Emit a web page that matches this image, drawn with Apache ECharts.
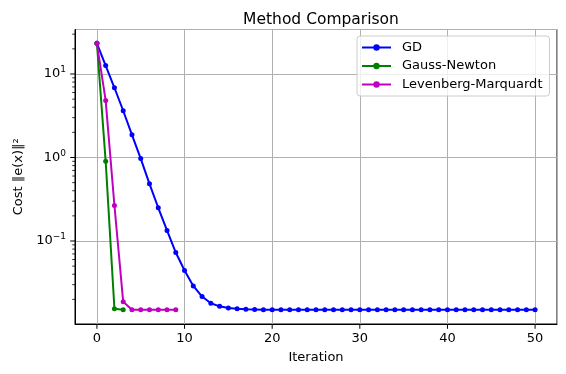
<!DOCTYPE html>
<html>
<head>
<meta charset="utf-8">
<script src="https://cdn.jsdelivr.net/npm/echarts@6/dist/echarts.min.js"></script>
<style>
html,body{margin:0;padding:0;background:#fff;}
#chart{width:566px;height:374px;}
</style>
</head>
<body>
<div id="chart"></div>
<script>
// ---- data ----
const titleText = 'Method Comparison';
const xLabel = 'Iteration';
const yLabel = 'Cost \u2016e(x)\u2016\u00b2';
const seriesNames = ['GD', 'Gauss-Newton', 'Levenberg-Marquardt'];
const gdCost = [23.3, 12.6, 6.84, 3.63, 1.87, 0.97, 0.484, 0.25, 0.134, 0.0728,
  0.0443, 0.029, 0.0216, 0.018, 0.0165, 0.0158, 0.0154, 0.0152, 0.0151,
  0.0150, 0.0150, 0.0150, 0.0150, 0.0150, 0.0150, 0.0150, 0.0150, 0.0150, 0.0150, 0.0150,
  0.0150, 0.0150, 0.0150, 0.0150, 0.0150, 0.0150, 0.0150, 0.0150, 0.0150, 0.0150,
  0.0150, 0.0150, 0.0150, 0.0150, 0.0150, 0.0150, 0.0150, 0.0150, 0.0150, 0.0150, 0.0150];
const gnCost = [23.3, 0.90, 0.0154, 0.0150];
const lmCost = [23.3, 4.8, 0.266, 0.0187, 0.0150, 0.0150, 0.0150, 0.0150, 0.0150, 0.0150];
const xTicks = [0, 10, 20, 30, 40, 50];
const yMajorTicks = [0.1, 1, 10];
const yMinorTicks = [0.02, 0.03, 0.04, 0.05, 0.06, 0.07, 0.08, 0.09,
  0.2, 0.3, 0.4, 0.5, 0.6, 0.7, 0.8, 0.9,
  2, 3, 4, 5, 6, 7, 8, 9, 20, 30];
const xMin = -2.5, xMax = 52.5;
const yMin = 0.01014, yMax = 34.1;

const colors = ['#0000ff', '#008000', '#bf00bf'];
const FONT = 'DejaVu Sans';

function toPairs(arr) { return arr.map((v, i) => [i, v]); }

function fmtPow(v) {
  const e = Math.round(Math.log10(v));
  return '{b|10}{s|' + String(e).replace('-', '\u2212') + '}';
}

const chart = echarts.init(document.getElementById('chart'), null, {renderer: 'canvas'});

function lineSeries(name, data, color) {
  return {
    name: name, type: 'line', data: toPairs(data),
    symbol: 'circle', symbolSize: 5, showSymbol: true,
    lineStyle: {color: color, width: 2},
    itemStyle: {color: color},
    emphasis: {disabled: true},
    animation: false, z: 3
  };
}

const GRID = {left: 75, right: 9, top: 29.5, bottom: 50};

const option = {
  animation: false,
  textStyle: {fontFamily: FONT},
  title: {
    text: titleText, left: 316, top: 7, textAlign: 'center',
    textStyle: {fontFamily: FONT, fontSize: 15.5, fontWeight: 'normal', color: '#000'}
  },
  grid: {
    left: GRID.left, right: GRID.right, top: GRID.top, bottom: GRID.bottom,
    show: true, borderColor: '#000', borderWidth: 1, backgroundColor: 'transparent'
  },
  legend: {
    data: seriesNames,
    orient: 'vertical', left: 357, top: 36,
    itemWidth: 29, itemHeight: 8, itemGap: 5.5,
    padding: [5, 7, 5, 4],
    backgroundColor: 'rgba(255,255,255,0.8)',
    borderColor: '#cccccc', borderWidth: 1, borderRadius: 3,
    textStyle: {fontFamily: FONT, fontSize: 13, color: '#000', padding: [0, 0, 0, 6]}
  },
  xAxis: {
    type: 'value', min: xMin, max: xMax,
    name: xLabel, nameLocation: 'middle', nameGap: 27,
    nameTextStyle: {fontFamily: FONT, fontSize: 13, color: '#000'},
    axisLine: {show: true, onZero: false, lineStyle: {color: '#000', width: 1}},
    axisTick: {show: false},
    axisLabel: {
      show: true, color: '#000', fontSize: 13, fontFamily: FONT, margin: 8,
      showMinLabel: false, showMaxLabel: false,
      formatter: v => (xTicks.indexOf(v) >= 0 ? String(v) : '')
    },
    splitLine: {show: true, lineStyle: {color: '#b0b0b0', width: 1}}
  },
  yAxis: {
    type: 'log', logBase: 10, min: yMin, max: yMax,
    name: yLabel, nameLocation: 'middle', nameGap: 50,
    nameTextStyle: {fontFamily: FONT, fontSize: 13, color: '#000'},
    axisLine: {show: true, onZero: false, lineStyle: {color: '#000', width: 1}},
    axisTick: {show: false},
    axisLabel: {
      show: true, color: '#000', margin: 9,
      showMinLabel: false, showMaxLabel: false,
      formatter: v => {
        const e = Math.log10(v);
        if (Math.abs(e - Math.round(e)) > 1e-6) return '';
        return fmtPow(v);
      },
      rich: {
        b: {fontFamily: FONT, fontSize: 13, color: '#000'},
        s: {fontFamily: FONT, fontSize: 9, color: '#000', verticalAlign: 'top', padding: [0, 0, 8, 0]}
      }
    },
    splitLine: {show: true, lineStyle: {color: '#b0b0b0', width: 1}}
  },
  series: [
    lineSeries(seriesNames[0], gdCost, colors[0]),
    lineSeries(seriesNames[1], gnCost, colors[1]),
    lineSeries(seriesNames[2], lmCost, colors[2])
  ]
};
chart.setOption(option);

// tick marks placed through the chart's own scales
const H = chart.getHeight();
const plotLeft = GRID.left, plotBottom = H - GRID.bottom;
const tickEls = [];
function yTick(v, len, lw) {
  const p = chart.convertToPixel({gridIndex: 0}, [xMin, v]);
  tickEls.push({type: 'line', silent: true, z: 10,
    shape: {x1: plotLeft - len, y1: p[1], x2: plotLeft, y2: p[1]},
    style: {stroke: '#000', lineWidth: lw}});
}
yMajorTicks.forEach(v => yTick(v, 4.8, 1));
yMinorTicks.forEach(v => yTick(v, 2.8, 0.8));
xTicks.forEach(v => {
  const p = chart.convertToPixel({gridIndex: 0}, [v, yMin]);
  tickEls.push({type: 'line', silent: true, z: 10,
    shape: {x1: p[0], y1: plotBottom, x2: p[0], y2: plotBottom + 4.8},
    style: {stroke: '#000', lineWidth: 1}});
});
chart.setOption({graphic: {elements: tickEls}});
</script>
</body>
</html>
